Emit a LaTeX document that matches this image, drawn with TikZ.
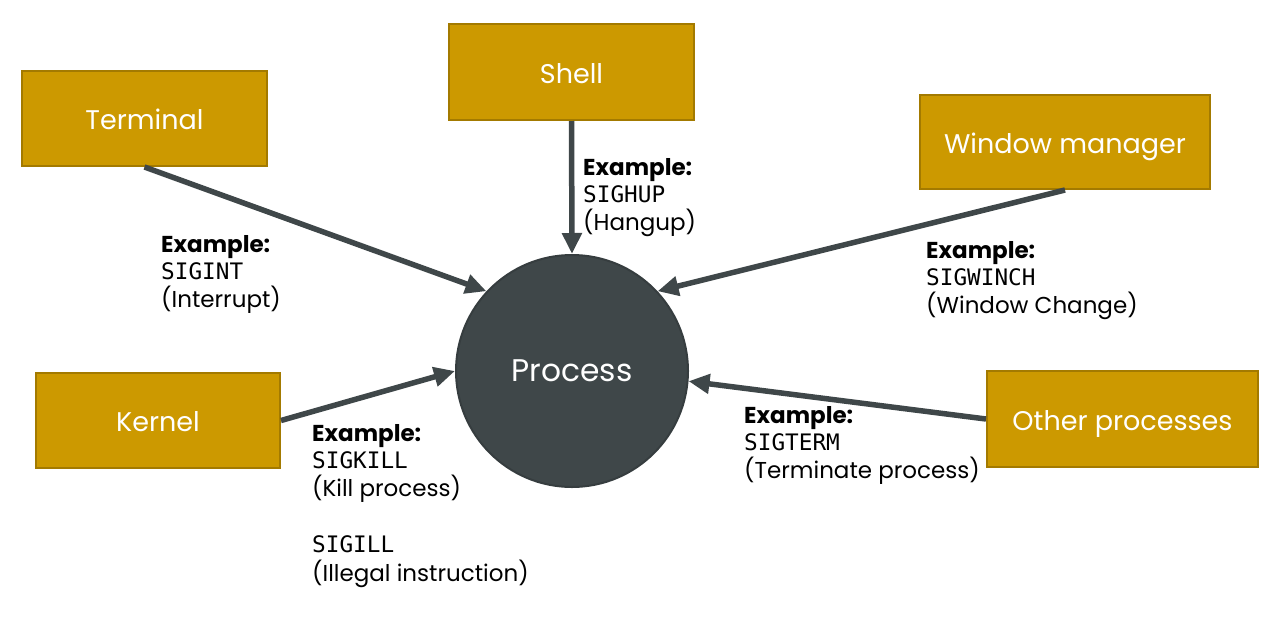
\documentclass[tikz,border=0pt]{standalone}
\usepackage{fontspec}
\setmainfont{Poppins}
\setmonofont{DejaVu Sans Mono}
\usetikzlibrary{arrows.meta}
\definecolor{gold}{HTML}{CC9900}
\definecolor{goldedge}{HTML}{A37A00}
\definecolor{slate}{HTML}{3F4749}
\definecolor{slateedge}{HTML}{363D3F}
\newcommand\ex{\textbf{Example:}}
\newcommand\signame[1]{{\fontsize{22.7}{27}\selectfont\ttfamily #1}}
\begin{document}
\begin{tikzpicture}[x=1pt,y=-1pt,
 src/.style={draw=goldedge,fill=gold,line width=2pt,inner sep=0pt,text=white,text height=26pt,text depth=4pt,font=\fontsize{27}{30}\selectfont},
 sigarrow/.style={draw=slate,line width=5.5pt,-{Triangle[length=21pt,width=19pt]}},
 lbl/.style={anchor=north west,inner sep=0pt,align=left,font=\fontsize{23}{27}\selectfont}]
\useasboundingbox (0,0) rectangle (1278,630);
\node[src,minimum width=245pt,minimum height=95pt] (term) at (144.5,118.5) {Terminal};
\node[src,minimum width=245pt,minimum height=96pt] (shell) at (571.5,72) {Shell};
\node[src,minimum width=290pt,minimum height=94pt] (wm) at (1065,142) {Window manager};
\node[src,minimum width=244pt,minimum height=95pt] (kern) at (158,420.5) {Kernel};
\node[src,minimum width=271pt,minimum height=96pt] (other) at (1122.5,419) {Other processes};
\node[circle,draw=slateedge,fill=slate,line width=2pt,minimum size=232pt,inner sep=0pt,text=white,font=\fontsize{31.3}{34}\selectfont] (proc) at (572,371) {Process};
\draw[sigarrow] (term.south) -- (proc.137);
\draw[sigarrow] (shell.south) -- (proc.north);
\draw[sigarrow] (wm.south) -- (proc.43);
\draw[sigarrow] (kern.east) -- (proc.west);
\draw[sigarrow] (other.west) -- (proc.-5);
\node[lbl] (lterm) at (161,235) {\ex\\\signame{SIGINT}\\[1.5pt](Interrupt)};
\node[lbl] (lshell) at (583,158) {\ex\\\signame{SIGHUP}\\[1.5pt](Hangup)};
\node[lbl] (lwm) at (926,241) {\ex\\\signame{SIGWINCH}\\[1.5pt](Window Change)};
\node[lbl] (lkern) at (312,424) {\ex\\\signame{SIGKILL}\\[1.5pt](Kill process)\\[29pt]\signame{SIGILL}\\[1.5pt](Illegal instruction)};
\node[lbl] (lother) at (744,406) {\ex\\\signame{SIGTERM}\\[1.5pt](Terminate process)};
\end{tikzpicture}
\end{document}
